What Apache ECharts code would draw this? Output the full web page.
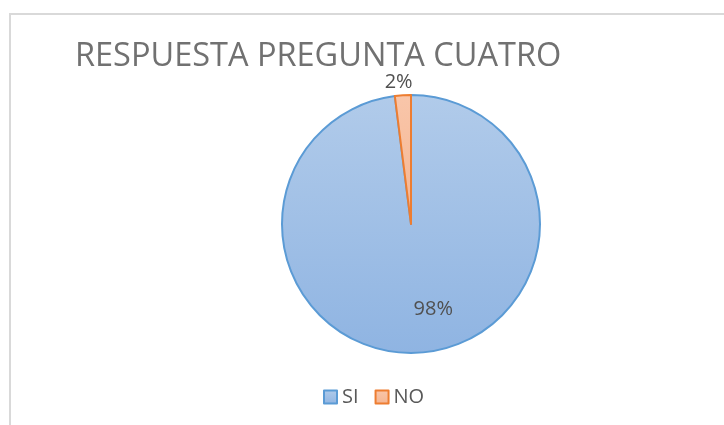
<!DOCTYPE html>
<html>
<head>
	<meta charset="utf-8" />
	<title>Respuesta pregunta cuatro</title>
	<script src="https://cdn.jsdelivr.net/npm/echarts@6/dist/echarts.min.js"></script>
	<style>
		html, body { margin: 0; padding: 0; background: #fff; }
		#chart { width: 724px; height: 425px; }
	</style>
</head>
<body>
<div id="chart"></div>
<script type="text/javascript">
	// datos
	var categorias = ['SI', 'NO'];
	var valores = [98, 2];
	var etiquetas = ['98%', '2%'];

	var relleno = [
		{ type: 'linear', x: 0, y: 0, x2: 0, y2: 1,
		  colorStops: [{ offset: 0, color: '#b1cbea' }, { offset: 1, color: '#8fb4e2' }] },
		{ type: 'linear', x: 0, y: 0, x2: 0, y2: 1,
		  colorStops: [{ offset: 0, color: '#f9c6aa' }, { offset: 1, color: '#f5b591' }] }
	];
	var bordes = ['#5b9bd5', '#ed7d31'];

	var fuente = '"Open Sans", "Noto Sans", sans-serif';

	var datos = [];
	for (var i = 0; i < categorias.length; i++) {
		datos.push({
			name: categorias[i],
			value: valores[i],
			itemStyle: { color: relleno[i], borderColor: bordes[i], borderWidth: 2 }
		});
	}
	// posicion de cada etiqueta como en Excel
	datos[0].label = { position: 'inside', offset: [18, 18] };
	datos[1].label = { position: 'outside', offset: [15, -9] };

	var myChart = echarts.init(document.getElementById('chart'));
	var option = {
		animation: false,
		title: {
			text: 'RESPUESTA PREGUNTA CUATRO',
			left: 70,
			top: 35,
			textStyle: { fontFamily: fuente, fontSize: 32.5, fontWeight: 'normal', color: '#717171' }
		},
		graphic: [{
			type: 'rect',
			shape: { x: 10, y: 14, width: 800, height: 500 },
			style: { fill: 'none', stroke: '#d9d9d9', lineWidth: 2 },
			silent: true
		}],
		legend: {
			data: categorias,
			top: 382,
			left: 318,
			icon: 'rect',
			itemWidth: 13,
			itemHeight: 13,
			itemGap: 16,
			textStyle: { fontFamily: fuente, fontSize: 20, color: '#595959' }
		},
		series: [{
			name: 'Respuesta',
			type: 'pie',
			center: [411, 224],
			radius: 129,
			startAngle: 90,
			clockwise: true,
			data: datos,
			label: {
				show: true,
				fontFamily: fuente,
				fontSize: 20,
				color: '#505050',
				formatter: function (p) { return etiquetas[p.dataIndex]; }
			},
			labelLine: { show: false, length: 4, length2: 0 }
		}]
	};
	myChart.setOption(option);
</script>
</body>
</html>
